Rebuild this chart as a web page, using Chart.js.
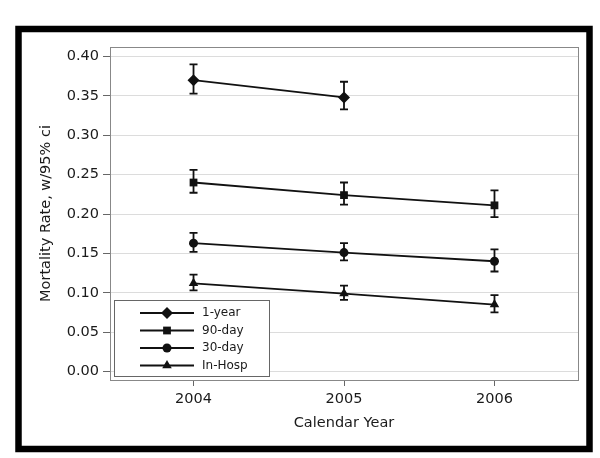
<!DOCTYPE html>
<html>
<head>
<meta charset="utf-8">
<script src="https://cdn.jsdelivr.net/npm/chart.js@4/dist/chart.umd.min.js"></script>
<style>
  html, body { margin: 0; padding: 0; background: #fff; }
  #chart { display: block; }
</style>
</head>
<body>
<canvas id="chart" width="600" height="458"></canvas>
<script>
'use strict';

// values
const years = [2004, 2005, 2006];
const yTicks = [0, 0.05, 0.10, 0.15, 0.20, 0.25, 0.30, 0.35, 0.40];

const seriesNames = ['1-year', '90-day', '30-day', 'In-Hosp'];
const seriesStyles = ['rectRot', 'rect', 'circle', 'triangle'];
const seriesRadius = [6, 5.5, 4.5, 5.5];

const oneYear = [0.370, 0.348];
const oneYearLo = [0.353, 0.333];
const oneYearHi = [0.390, 0.368];

const ninetyDay = [0.240, 0.224, 0.211];
const ninetyDayLo = [0.227, 0.212, 0.196];
const ninetyDayHi = [0.256, 0.240, 0.230];

const thirtyDay = [0.163, 0.151, 0.140];
const thirtyDayLo = [0.152, 0.141, 0.127];
const thirtyDayHi = [0.176, 0.163, 0.155];

const inHosp = [0.112, 0.099, 0.085];
const inHospLo = [0.103, 0.091, 0.075];
const inHospHi = [0.123, 0.109, 0.097];

const values = [oneYear, ninetyDay, thirtyDay, inHosp];
const lows = [oneYearLo, ninetyDayLo, thirtyDayLo, inHospLo];
const highs = [oneYearHi, ninetyDayHi, thirtyDayHi, inHospHi];

const FONT = "'DejaVu Sans', Verdana, sans-serif";
const TEXT = '#1a1a1a';

function drawMarker(ctx, style, x, y, r) {
    ctx.beginPath();
    if (style === 'rectRot') {
        ctx.moveTo(x - r, y); ctx.lineTo(x, y - r); ctx.lineTo(x + r, y); ctx.lineTo(x, y + r);
    } else if (style === 'rect') {
        const s = Math.SQRT1_2 * r;
        ctx.rect(x - s, y - s, 2 * s, 2 * s);
    } else if (style === 'triangle') {
        const a = 2 * Math.PI / 3;
        ctx.moveTo(x, y - r);
        ctx.lineTo(x + Math.sin(a) * r, y - Math.cos(a) * r);
        ctx.lineTo(x + Math.sin(2 * a) * r, y - Math.cos(2 * a) * r);
    } else {
        ctx.arc(x, y, r, 0, Math.PI * 2);
    }
    ctx.closePath();
    ctx.fill();
}

// error bars, plot frame, outer border and the boxed legend
const decor = {
    id: 'decor',
    afterDatasetsDraw(chart) {
        const ctx = chart.ctx;
        const xs = chart.scales.x, ys = chart.scales.y;
        const a = chart.chartArea;

        ctx.save();
        ctx.strokeStyle = '#111';
        ctx.lineWidth = 1.8;
        chart.data.datasets.forEach((ds, i) => {
            ds.data.forEach((p, j) => {
                const x = xs.getPixelForValue(p.x);
                const lo = ys.getPixelForValue(lows[i][j]);
                const hi = ys.getPixelForValue(highs[i][j]);
                ctx.beginPath();
                ctx.moveTo(x, lo); ctx.lineTo(x, hi);
                ctx.moveTo(x - 4, lo); ctx.lineTo(x + 4, lo);
                ctx.moveTo(x - 4, hi); ctx.lineTo(x + 4, hi);
                ctx.stroke();
            });
        });

        // frame around plot area
        ctx.strokeStyle = '#888';
        ctx.lineWidth = 1;
        ctx.strokeRect(a.left + 0.5, a.top + 0.5, a.right - a.left, a.bottom - a.top);

        // legend box
        const bx = a.left + 4, by = a.bottom - 80, bw = 155, bh = 76;
        ctx.fillStyle = '#fff';
        ctx.fillRect(bx, by, bw, bh);
        ctx.strokeStyle = '#666';
        ctx.strokeRect(bx + 0.5, by + 0.5, bw, bh);
        ctx.font = '12px ' + FONT;
        ctx.textBaseline = 'middle';
        seriesNames.forEach((name, i) => {
            const ry = by + 13 + i * 17.5;
            ctx.strokeStyle = '#111';
            ctx.lineWidth = 1.8;
            ctx.beginPath();
            ctx.moveTo(bx + 26, ry); ctx.lineTo(bx + 80, ry);
            ctx.stroke();
            ctx.fillStyle = '#111';
            drawMarker(ctx, seriesStyles[i], bx + 53, ry, seriesRadius[i]);
            ctx.fillStyle = TEXT;
            ctx.fillText(name, bx + 88, ry);
        });

        // heavy outer border
        ctx.strokeStyle = '#000';
        ctx.lineWidth = 6.5;
        ctx.strokeRect(18.5, 29, 571, 420);
        ctx.restore();
    }
};

const datasets = values.map((vals, i) => ({
    label: seriesNames[i],
    data: vals.map((v, j) => ({ x: years[j], y: v })),
    borderColor: '#111',
    backgroundColor: '#111',
    borderWidth: 1.8,
    pointStyle: seriesStyles[i],
    pointRadius: seriesRadius[i],
    pointBorderWidth: 0,
    pointHoverRadius: seriesRadius[i],
    tension: 0
}));

new Chart(document.getElementById('chart'), {
    type: 'line',
    data: { datasets: datasets },
    options: {
        responsive: false,
        animation: false,
        events: [],
        layout: { padding: { left: 0, top: 47, right: 22, bottom: 0 } },
        plugins: {
            legend: { display: false },
            tooltip: { enabled: false }
        },
        scales: {
            x: {
                type: 'linear',
                min: 2003.445,
                max: 2006.555,
                afterBuildTicks: s => { s.ticks = years.map(v => ({ value: v })); },
                afterFit: s => { s.height = 78; },
                ticks: {
                    callback: v => String(v),
                    color: TEXT,
                    font: { family: FONT, size: 14.5 },
                    padding: 5,
                    maxRotation: 0
                },
                grid: {
                    drawOnChartArea: false,
                    tickLength: 6,
                    tickColor: '#666'
                },
                border: { color: '#888' },
                title: {
                    display: true,
                    text: 'Calendar Year',
                    color: TEXT,
                    font: { family: FONT, size: 14.5 },
                    padding: { top: 0, bottom: 26 }
                }
            },
            y: {
                type: 'linear',
                min: -0.0108,
                max: 0.4121,
                afterBuildTicks: s => { s.ticks = yTicks.map(v => ({ value: v })); },
                afterFit: s => { s.width = 110; },
                ticks: {
                    callback: v => v.toFixed(2),
                    color: TEXT,
                    font: { family: FONT, size: 14.5 },
                    padding: 4
                },
                grid: {
                    color: '#dcdcdc',
                    lineWidth: 1,
                    tickLength: 7,
                    tickColor: '#666'
                },
                border: { color: '#888' },
                title: {
                    display: true,
                    text: 'Mortality Rate, w/95% ci',
                    color: TEXT,
                    font: { family: FONT, size: 14.5 },
                    padding: { top: 38, bottom: 0 }
                }
            }
        }
    },
    plugins: [decor]
});
</script>
</body>
</html>
